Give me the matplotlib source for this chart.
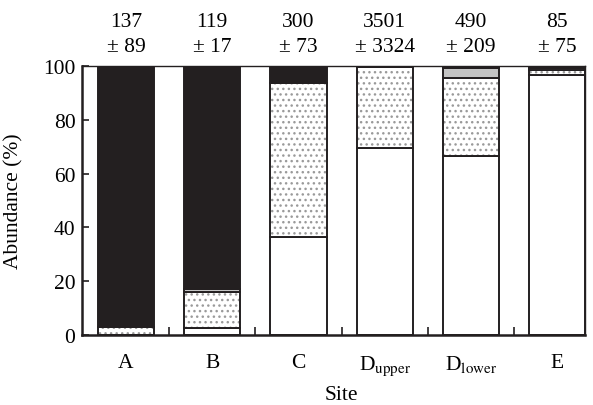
import numpy as np
import matplotlib
matplotlib.use("Agg")
import matplotlib.pyplot as plt
import matplotlib.transforms as mtransforms

plt.rcParams['font.family'] = ['Liberation Serif', 'DejaVu Serif']
plt.rcParams['mathtext.fontset'] = 'stix'
plt.rcParams['hatch.linewidth'] = 1.0

# Données
sites = ['A', 'B', 'C', r'D$_{\mathrm{upper}}$', r'D$_{\mathrm{lower}}$', 'E']
densite = ['137', '119', '300', '3501', '490', '85']
erreur = ['± 89', '± 17', '± 73', '± 3324', '± 209', '± 75']

# pourcentages de chaque classe (de bas en haut)
blanc = [0.0, 2.6, 36.4, 69.5, 66.4, 96.5]
pointille = [3.1, 13.4, 57.4, 30.0, 29.0, 2.0]
gris = [0.0, 1.0, 0.0, 0.0, 3.9, 0.8]
noir = [96.9, 83.0, 6.2, 0.5, 0.7, 0.7]

x = np.arange(len(sites))
w = 0.65
noir_c = '#231f20'
fs = 15.5

fig = plt.figure(figsize=(5.93, 4.06), dpi=100)
ax = fig.add_axes([0.139, 0.172, 0.848, 0.663])

bas = np.zeros(len(sites))
for vals, couleur, hachure in [(blanc, 'white', None),
                               (pointille, 'white', '...'),
                               (gris, '#c4c4c4', None),
                               (noir, noir_c, None)]:
    vals = np.array(vals)
    if hachure:
        # couche de points gris
        ax.bar(x, vals, w, bottom=bas, color='white', edgecolor='#9a9a9a',
               hatch=hachure, linewidth=0)
        ax.bar(x, vals, w, bottom=bas, fill=False, edgecolor=noir_c, linewidth=1.4)
    else:
        ax.bar(x, vals, w, bottom=bas, color=couleur, edgecolor=noir_c, linewidth=1.4)
    bas += vals

# densités au-dessus des barres
trans = mtransforms.blended_transform_factory(ax.transData, ax.transAxes)
for i in range(len(sites)):
    ax.text(x[i], 1.167, densite[i], transform=trans, ha='center', va='center', fontsize=fs)
    ax.text(x[i], 1.074, erreur[i], transform=trans, ha='center', va='center', fontsize=fs)

ax.set_xlim(-0.505, 5.325)
ax.set_ylim(0, 100)
ax.set_yticks([0, 20, 40, 60, 80, 100])
ax.set_xticks(x)
ax.set_xticklabels(sites)
ax.set_xticks(x[:-1] + 0.5, minor=True)
ax.tick_params(axis='x', which='major', length=0, labelsize=fs, pad=13)
ax.tick_params(axis='x', which='minor', direction='in', length=6, width=1.2, color=noir_c)
ax.tick_params(axis='y', direction='in', length=5, width=1.2, labelsize=fs, color=noir_c, pad=5)
for s in ax.spines.values():
    s.set_linewidth(1.0)
    s.set_color(noir_c)
ax.spines['bottom'].set_linewidth(1.8)
ax.spines['left'].set_linewidth(1.8)

ax.set_ylabel('Abundance (%)', fontsize=fs)
ax.yaxis.set_label_coords(-0.118, 0.5)
fig.text(0.575, 0.002, 'Site', ha='center', va='bottom', fontsize=fs)

fig.savefig('out.png', dpi=100)
